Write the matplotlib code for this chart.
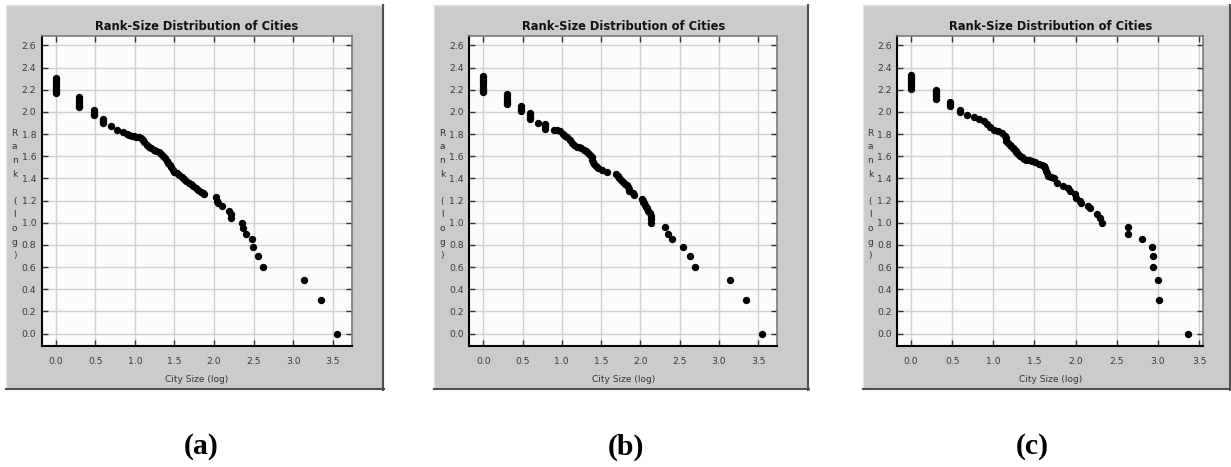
import matplotlib.pyplot as plt
from matplotlib.patches import Rectangle
from matplotlib.lines import Line2D

# log city size / log rank
size_a = [0.00, 0.00, 0.00, 0.00, 0.00, 0.00, 0.00, 0.00,
          0.30, 0.30, 0.30, 0.30, 0.30, 0.30,
          0.48, 0.48, 0.48, 0.48,
          0.60, 0.60, 0.60,
          0.70, 0.78, 0.85,
          0.90, 0.93, 0.96, 0.99, 1.02, 1.05, 1.08, 1.10, 1.12, 1.15, 1.18, 1.21,
          1.24, 1.27, 1.30, 1.33, 1.36, 1.38, 1.40, 1.42, 1.44, 1.46, 1.48, 1.50,
          1.53, 1.56, 1.59, 1.62, 1.65, 1.68, 1.71, 1.74, 1.77, 1.80, 1.83, 1.86, 1.88,
          2.02, 2.04, 2.05, 2.10, 2.19, 2.21, 2.22, 2.36, 2.37, 2.40, 2.48, 2.49,
          2.56, 2.62, 3.14, 3.35, 3.55]
rank_a = [2.31, 2.29, 2.27, 2.25, 2.23, 2.21, 2.19, 2.17,
          2.13, 2.11, 2.09, 2.07, 2.05, 2.04,
          2.02, 2.00, 1.98, 1.97,
          1.94, 1.92, 1.90,
          1.87, 1.84, 1.82,
          1.80, 1.795, 1.785, 1.78, 1.775, 1.77, 1.765, 1.745, 1.725, 1.705, 1.685, 1.67,
          1.66, 1.65, 1.635, 1.62, 1.60, 1.585, 1.56, 1.54, 1.52, 1.50, 1.475, 1.46,
          1.45, 1.435, 1.41, 1.39, 1.375, 1.36, 1.345, 1.33, 1.315, 1.295, 1.28, 1.265, 1.255,
          1.23, 1.20, 1.18, 1.15, 1.11, 1.08, 1.04, 1.00, 0.95, 0.90, 0.85, 0.78,
          0.70, 0.60, 0.48, 0.30, 0.00]

size_b = [0.00, 0.00, 0.00, 0.00, 0.00, 0.00, 0.00, 0.00,
          0.30, 0.30, 0.30, 0.30, 0.30, 0.30,
          0.48, 0.48, 0.48,
          0.60, 0.60, 0.60, 0.60,
          0.70, 0.78, 0.78, 0.78,
          0.90, 0.94, 0.98, 1.01, 1.04, 1.07, 1.10, 1.13, 1.16, 1.19, 1.22, 1.25,
          1.28, 1.31, 1.34, 1.36, 1.38, 1.39, 1.40, 1.41, 1.43, 1.46, 1.51, 1.58,
          1.69, 1.71, 1.73, 1.75, 1.78, 1.80, 1.83, 1.84, 1.85, 1.86, 1.91, 1.92,
          2.02, 2.03, 2.04, 2.05, 2.06, 2.07, 2.08, 2.10, 2.12, 2.13, 2.13, 2.14,
          2.31, 2.35, 2.40, 2.54, 2.63, 2.70, 3.14, 3.35, 3.55]
rank_b = [2.32, 2.30, 2.28, 2.26, 2.24, 2.22, 2.20, 2.18,
          2.16, 2.14, 2.12, 2.10, 2.08, 2.07,
          2.05, 2.03, 2.01,
          1.99, 1.97, 1.95, 1.94,
          1.90, 1.89, 1.87, 1.85,
          1.84, 1.835, 1.83, 1.80, 1.785, 1.77, 1.745, 1.72, 1.70, 1.685, 1.68, 1.675,
          1.66, 1.645, 1.625, 1.61, 1.59, 1.57, 1.55, 1.53, 1.51, 1.495, 1.48, 1.46,
          1.44, 1.42, 1.40, 1.385, 1.37, 1.35, 1.34, 1.32, 1.30, 1.285, 1.27, 1.25,
          1.21, 1.20, 1.19, 1.175, 1.16, 1.145, 1.13, 1.11, 1.085, 1.06, 1.035, 1.00,
          0.96, 0.90, 0.85, 0.78, 0.70, 0.60, 0.48, 0.30, 0.00]

size_c = [0.00, 0.00, 0.00, 0.00, 0.00, 0.00, 0.00,
          0.30, 0.30, 0.30, 0.30, 0.30,
          0.48, 0.48, 0.48,
          0.60, 0.60,
          0.68, 0.76, 0.83, 0.89, 0.92, 0.96, 1.01, 1.06, 1.10, 1.14, 1.15, 1.16,
          1.18, 1.20, 1.22, 1.24, 1.25, 1.27, 1.28, 1.30, 1.33, 1.35, 1.37, 1.40,
          1.43, 1.47, 1.51, 1.55, 1.59, 1.61, 1.63, 1.64, 1.65, 1.67, 1.70, 1.74,
          1.77, 1.85, 1.91, 1.93, 1.99, 2.01, 2.05, 2.06, 2.15, 2.18, 2.26, 2.30,
          2.32, 2.63, 2.63, 2.80, 2.93, 2.94, 2.94, 3.00, 3.01, 3.37]
rank_c = [2.33, 2.31, 2.29, 2.27, 2.25, 2.23, 2.21,
          2.20, 2.18, 2.16, 2.14, 2.12,
          2.09, 2.07, 2.05,
          2.02, 2.00,
          1.97, 1.955, 1.94, 1.915, 1.89, 1.865, 1.84, 1.83, 1.81, 1.78, 1.76, 1.74,
          1.72, 1.705, 1.69, 1.675, 1.665, 1.65, 1.635, 1.62, 1.60, 1.59, 1.575, 1.57,
          1.565, 1.555, 1.545, 1.53, 1.52, 1.51, 1.49, 1.47, 1.445, 1.42, 1.41, 1.40,
          1.36, 1.33, 1.31, 1.285, 1.255, 1.225, 1.195, 1.18, 1.15, 1.13, 1.08, 1.04,
          1.00, 0.96, 0.90, 0.85, 0.78, 0.70, 0.60, 0.48, 0.30, 0.00]

x_ticks = [0.0, 0.5, 1.0, 1.5, 2.0, 2.5, 3.0, 3.5]
y_ticks = [0.0, 0.2, 0.4, 0.6, 0.8, 1.0, 1.2, 1.4, 1.6, 1.8, 2.0, 2.2, 2.4, 2.6]
panel_tags = ['(a)', '(b)', '(c)']
title = 'Rank-Size Distribution of Cities'
x_title = 'City Size (log)'
y_title = 'Rank (log)'

W, H = 1231, 467
fig = plt.figure(figsize=(W / 100, H / 100), dpi=100)
fig.patch.set_facecolor('white')


def fx(px):
    return px / W


def fy(py):
    return 1 - py / H


# grey frame (l, t, r, b), plot area (l, t, r, b), x limits, tag x position
layout = [
    ((6, 5, 384, 390), (41.7, 36, 351.7, 345.7), (-0.177, 3.74), 201),
    ((434, 5, 809, 390), (469.3, 36, 777.3, 345.7), (-0.178, 3.745), 626),
    ((863, 5, 1231, 390), (897.3, 36, 1203.3, 345.7), (-0.166, 3.55), 1032),
]
series = [(size_a, rank_a), (size_b, rank_b), (size_c, rank_c)]

for (frame, box, xlim, tag_x), (xs, ys), tag in zip(layout, series, panel_tags):
    gl, gt, gr, gb = frame
    fig.patches.append(Rectangle((fx(gl), fy(gb)), fx(gr) - fx(gl), fy(gt) - fy(gb),
                                 transform=fig.transFigure, facecolor='#cbcbcb',
                                 edgecolor='none', zorder=-5))
    # light top/left rim, dark right/bottom rim
    fig.lines.append(Line2D([fx(gl), fx(gl)], [fy(gb), fy(gt)],
                            transform=fig.transFigure, color='#e4e4e4', lw=1, zorder=-4))
    fig.lines.append(Line2D([fx(gl), fx(gr)], [fy(gt), fy(gt)],
                            transform=fig.transFigure, color='#e4e4e4', lw=1, zorder=-4))
    fig.lines.append(Line2D([fx(gr - 1), fx(gr - 1)], [fy(gb), fy(gt)],
                            transform=fig.transFigure, color='#505050', lw=1.5, zorder=-4))
    fig.lines.append(Line2D([fx(gl), fx(gr)], [fy(gb - 1), fy(gb - 1)],
                            transform=fig.transFigure, color='#505050', lw=1.5, zorder=-4))

    pl, pt, pr, pb = box
    ax = fig.add_axes([fx(pl), fy(pb), fx(pr) - fx(pl), fy(pt) - fy(pb)])
    ax.set_facecolor('#fcfdfb')
    ax.plot(xs, ys, 'o', color='black', ms=5.3, mew=0, zorder=3)
    ax.set_xlim(*xlim)
    ax.set_ylim(-0.11, 2.685)
    ax.set_xticks(x_ticks)
    ax.set_yticks(y_ticks)
    ax.set_xticklabels([f'{v:.1f}' for v in x_ticks])
    ax.set_yticklabels([f'{v:.1f}' for v in y_ticks])
    ax.grid(True, color='#d0d0d0', lw=1)
    ax.set_axisbelow(True)
    ax.tick_params(direction='in', length=4, width=1, color='#333333',
                   top=True, right=True, labelsize=6.7, labelcolor='#3a3a3a')
    ax.tick_params(axis='x', pad=8)
    ax.tick_params(axis='y', pad=4)
    for s in ['left', 'bottom']:
        ax.spines[s].set_color('black')
        ax.spines[s].set_linewidth(1.5)
    for s in ['top', 'right']:
        ax.spines[s].set_color('#7a7a7a')
        ax.spines[s].set_linewidth(1.2)

    cx = (pl + pr) / 2
    fig.text(fx(cx), fy(27), title, ha='center', va='center',
             fontsize=8.3, fontweight='bold', color='#111111')
    fig.text(fx(cx), fy(379), x_title, ha='center', va='center',
             fontsize=6.5, color='#333333')
    for i, ch in enumerate(y_title):
        fig.text(fx(pl - 27), fy(133.3 + i * 13.6), ch, ha='center', va='center',
                 fontsize=6.5, color='#333333')
    fig.text(fx(tag_x), fy(447), tag, ha='center', va='center',
             fontsize=21.5, fontweight='bold', family='Liberation Serif')

fig.savefig('out.png', dpi=100)
